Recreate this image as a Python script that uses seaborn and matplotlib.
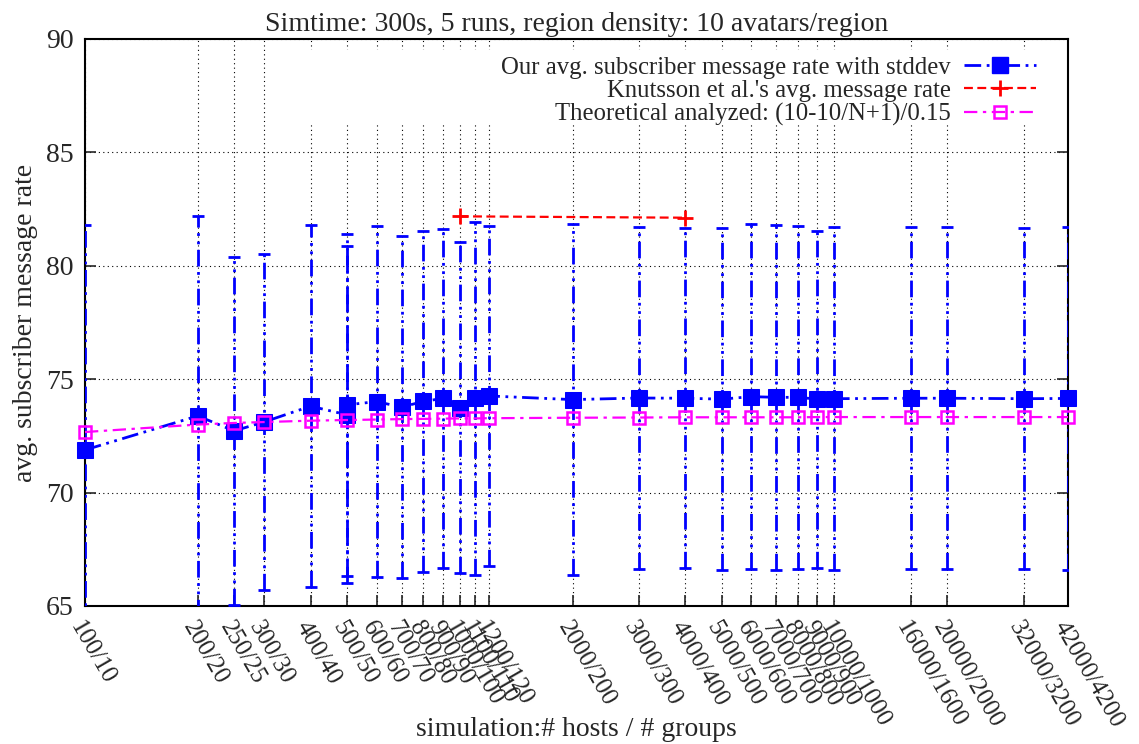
import matplotlib
matplotlib.use("Agg")
import matplotlib.pyplot as plt
from matplotlib.lines import Line2D
from matplotlib.patches import Rectangle
import pandas as pd
import seaborn as sns

# measured series (hosts on a log axis, 500/50 was run twice)
hosts = [100, 200, 250, 300, 400, 500, 500, 600, 700, 800, 900, 1000, 1100, 1200,
         2000, 3000, 4000, 5000, 6000, 7000, 8000, 9000, 10000, 16000, 20000,
         32000, 42000]
our_mean = [71.88, 73.38, 72.72, 73.11, 73.81, 73.43, 73.87, 74.01, 73.77, 74.02,
            74.15, 73.75, 74.15, 74.26, 74.10, 74.17, 74.16, 74.12, 74.23, 74.20,
            74.20, 74.12, 74.14, 74.16, 74.16, 74.14, 74.15]
our_std = [9.92, 8.83, 7.68, 7.40, 7.99, 7.43, 7.55, 7.75, 7.55, 7.53, 7.46, 7.28,
           7.78, 7.50, 7.73, 7.53, 7.50, 7.53, 7.60, 7.60, 7.57, 7.43, 7.55, 7.53,
           7.53, 7.51, 7.55]

knut_hosts = [1000, 4000]
knut_rate = [82.18, 82.12]

theo_hosts = [100, 200, 250, 300, 400, 500, 600, 700, 800, 900, 1000, 1100, 1200,
              2000, 3000, 4000, 5000, 6000, 7000, 8000, 9000, 10000, 16000, 20000,
              32000, 42000]
theo_rate = [72.67, 73.00, 73.07, 73.11, 73.17, 73.20, 73.22, 73.24, 73.25, 73.26,
             73.27, 73.27, 73.28, 73.30, 73.31, 73.32, 73.32, 73.32, 73.32, 73.32,
             73.33, 73.33, 73.33, 73.33, 73.33, 73.33]

tick_hosts = theo_hosts
tick_labels = ["100/10", "200/20", "250/25", "300/30", "400/40", "500/50", "600/60",
               "700/70", "800/80", "900/90", "1000/100", "1100/110", "1200/120",
               "2000/200", "3000/300", "4000/400", "5000/500", "6000/600",
               "7000/700", "8000/800", "9000/900", "10000/1000", "16000/1600",
               "20000/2000", "32000/3200", "42000/4200"]

sns.set_style("white")
plt.rcParams["font.family"] = ["Liberation Serif", "DejaVu Serif"]

fs = 17.8
dash_blue = (0, (6, 2, 1, 2, 1, 2))
dash_pink = (0, (6, 2.5, 1.5, 2.5))
dash_red = (0, (4, 2))

fig = plt.figure(figsize=(11.39, 7.44), dpi=100)
ax = fig.add_axes([0.0746, 0.1855, 0.8631, 0.7621])
ax.set_xscale("log")

our = pd.DataFrame({"hosts": hosts, "rate": our_mean, "std": our_std})
knut = pd.DataFrame({"hosts": knut_hosts, "rate": knut_rate})
theo = pd.DataFrame({"hosts": theo_hosts, "rate": theo_rate})

# error bars of our measurement (clipped at the axes like gnuplot)
eb = ax.errorbar(our["hosts"], our["rate"], yerr=our["std"], fmt="none",
                 ecolor="blue", elinewidth=2, capsize=4, capthick=2, zorder=3)
eb[2][0].set_linestyle(dash_blue)

sns.lineplot(data=our, x="hosts", y="rate", estimator=None, sort=False, ax=ax,
             color="blue", linewidth=2, linestyle=dash_blue, marker="s",
             markersize=11, markerfacecolor="blue", markeredgecolor="blue",
             zorder=4, clip_on=False)
sns.lineplot(data=knut, x="hosts", y="rate", estimator=None, sort=False, ax=ax,
             color="red", linewidth=1.6, linestyle=dash_red, marker="+",
             markersize=11, markeredgewidth=2, markeredgecolor="red", zorder=5,
             clip_on=False)
sns.lineplot(data=theo, x="hosts", y="rate", estimator=None, sort=False, ax=ax,
             color="magenta", linewidth=1.6, linestyle=dash_pink, marker="s",
             markersize=8, markerfacecolor="none", markeredgecolor="magenta",
             markeredgewidth=1.8, zorder=6, clip_on=False)

ax.set_xlim(100, 42000)
ax.set_ylim(65, 90)
ax.set_yticks([65, 70, 75, 80, 85, 90])
ax.set_xticks(tick_hosts)
ax.set_xticklabels(tick_labels, rotation=-60, ha="left", va="top",
                   rotation_mode="anchor", fontsize=fs)
ax.xaxis.set_minor_locator(matplotlib.ticker.NullLocator())
ax.tick_params(axis="x", which="major", direction="in", length=8, width=1.2,
               pad=8, top=False, bottom=True)
ax.tick_params(axis="y", which="major", direction="in", length=8, width=1.2,
               left=True, right=True, labelsize=20, pad=8)

ax.grid(True, linestyle=(0, (1, 3)), color="black", linewidth=0.8)
ax.set_axisbelow(True)
for sp in ax.spines.values():
    sp.set_color("black")
    sp.set_linewidth(1.5)

# opaque key area covers the grid
ax.add_patch(Rectangle((0.2085, 0.852), 0.7915, 0.1285, transform=ax.transAxes,
                       facecolor="white", edgecolor="none", zorder=1))

ax.set_title("Simtime: 300s, 5 runs, region density: 10 avatars/region",
             fontsize=20, pad=6)
ax.set_xlabel("simulation:# hosts / # groups", fontsize=20)
ax.xaxis.set_label_coords(0.5, -0.195)
ax.set_ylabel("avg. subscriber message rate", fontsize=20, labelpad=6)

handles = [
    Line2D([], [], color="blue", linewidth=2, linestyle=dash_blue, marker="s",
           markersize=11, markerfacecolor="blue", markeredgecolor="blue"),
    Line2D([], [], color="red", linewidth=1.6, linestyle=dash_red, marker="+",
           markersize=11, markeredgewidth=2),
    Line2D([], [], color="magenta", linewidth=1.6, linestyle=dash_pink, marker="s",
           markersize=8, markerfacecolor="none", markeredgecolor="magenta",
           markeredgewidth=1.8),
]
labels = ["Our avg. subscriber message rate with stddev",
          "Knutsson et al.'s avg. message rate",
          "Theoretical analyzed: (10-10/N+1)/0.15"]
leg = ax.legend(handles, labels, loc="upper right", markerfirst=False,
                frameon=False, fontsize=fs, handlelength=2.9, handletextpad=0.55,
                labelspacing=0.05, borderaxespad=0.3, bbox_to_anchor=(0.985, 1.0))
for t in leg.get_texts():
    t.set_ha("right")
leg.set_zorder(10)

fig.savefig("out.png", dpi=100)
